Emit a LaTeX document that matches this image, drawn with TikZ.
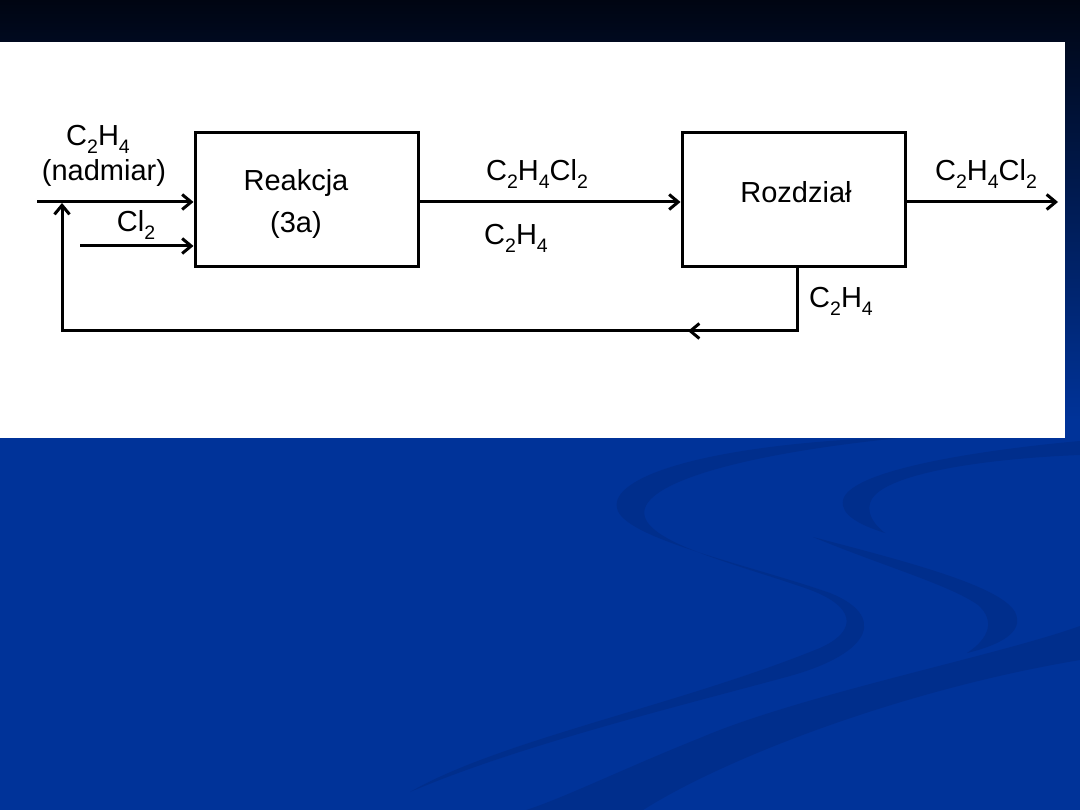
\documentclass[tikz,border=0pt]{standalone}
\usepackage{fontspec}
\setmainfont{Liberation Sans}
\usetikzlibrary{arrows.meta}
\definecolor{bgblue}{RGB}{0,51,153}
\definecolor{bgtop}{RGB}{0,5,18}
\definecolor{swooshc}{RGB}{0,46,140}
\newcommand{\chsub}[1]{\raisebox{-8pt}{\fontsize{19.5}{20}\selectfont #1}}
\begin{document}
\begin{tikzpicture}[x=1pt,y=-1pt,
  lbl/.style={font=\fontsize{29}{34}\selectfont, anchor=base, inner sep=0pt},
  procbox/.style={draw, line width=3pt, minimum width=223pt, minimum height=134pt, inner sep=0pt},
  flow/.style={line width=3pt},
  arr/.style={flow, -{Straight Barb[length=9pt,width=15pt]}},
  swoosh/.style={fill=swooshc}]
\useasboundingbox (0,0) rectangle (1080,810);
% background
\fill[bgblue] (0,0) rectangle (1080,810);
\shade[top color=bgtop, bottom color=bgblue] (0,0) rectangle (1080,420);
% swooshes
\fill[swoosh] (880,438) .. controls (700,446) and (610,478) .. (617,508)
 .. controls (622,538) and (750,565) .. (830,593)
 .. controls (885,615) and (875,652) .. (790,676)
 .. controls (680,706) and (520,745) .. (410,792)
 .. controls (500,740) and (680,705) .. (820,648)
 .. controls (860,630) and (855,605) .. (805,588)
 .. controls (730,562) and (635,540) .. (645,508)
 .. controls (655,478) and (760,452) .. (900,438) -- cycle;
\fill[swoosh] (1080,441) .. controls (980,450) and (850,470) .. (843,500)
 .. controls (840,515) and (860,525) .. (885,533)
 .. controls (868,520) and (865,505) .. (875,495)
 .. controls (900,470) and (1000,458) .. (1080,455) -- cycle;
\fill[swoosh] (813,537) .. controls (900,560) and (1000,585) .. (1015,612)
 .. controls (1025,632) and (1000,645) .. (967,653)
 .. controls (990,638) and (995,620) .. (978,605)
 .. controls (950,585) and (880,565) .. (813,537) -- cycle;
\fill[swoosh] (1080,626) .. controls (1000,655) and (800,695) .. (700,738)
 .. controls (620,770) and (560,800) .. (520,812) -- (640,812)
 .. controls (720,760) and (900,690) .. (1080,660) -- cycle;
% white panel
\fill[white] (0,42) rectangle (1065,438);

% boxes
\node[procbox] (b1) at (306.5,200) {};
\node[procbox] (b2) at (793.5,200) {};

% coordinates
\coordinate (in0) at (37,202);
\coordinate (cl0) at (80,246);
\coordinate (out) at (1058,202);
\coordinate (rb) at (797,267);
\coordinate (r1) at (797,331);
\coordinate (rm) at (688,331);
\coordinate (r2) at (62,331);
\coordinate (rj) at (62,203);

% flows
\draw[arr] (in0) -- (in0 -| b1.west);
\draw[arr] (cl0) -- (cl0 -| b1.west);
\draw[arr] (b1.east |- in0) -- (b2.west |- in0);
\draw[arr] (b2.east |- in0) -- (out);
\draw[arr] (rb) -- (r1) -- (r2) -- (rj);
\draw[arr] (r1) -- (rm);

% labels
\node[lbl] (tC2H4in) at (98,146) {C\chsub{2}H\chsub{4}};
\node[lbl] (tnad) at (104,181) {(nadmiar)};
\node[lbl] (tCl2) at (136,232) {Cl\chsub{2}};
\node[lbl] (tReak) at (296,191) {Reakcja};
\node[lbl] (t3a) at (296,233) {(3a)};
\node[lbl] (tmid1) at (537,181) {C\chsub{2}H\chsub{4}Cl\chsub{2}};
\node[lbl] (tmid2) at (516,245) {C\chsub{2}H\chsub{4}};
\node[lbl] (tRoz) at (796,203) {Rozdział};
\node[lbl] (tout) at (986,181) {C\chsub{2}H\chsub{4}Cl\chsub{2}};
\node[lbl] (trec) at (841,308) {C\chsub{2}H\chsub{4}};
\end{tikzpicture}
\end{document}
